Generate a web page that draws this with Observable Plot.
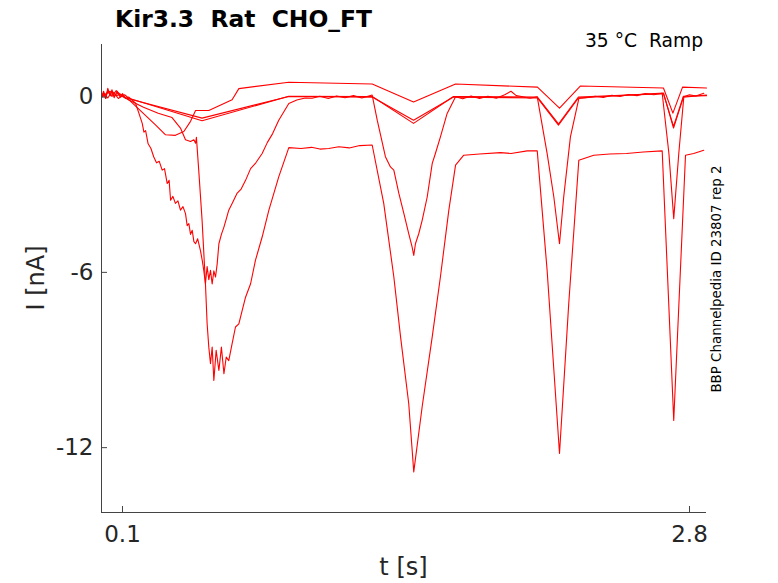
<!DOCTYPE html>
<html>
<head>
<meta charset="utf-8">
<script src="https://cdn.jsdelivr.net/npm/d3@7"></script>
<script src="https://cdn.jsdelivr.net/npm/@observablehq/plot@0.6"></script>
<style>
  html, body { margin: 0; padding: 0; background: #fff; }
  #chart { width: 778px; height: 583px; }
</style>
</head>
<body>
<div id="chart"></div>
<script>
// ---- axis ticks ----
const xTicks = [0.1, 2.8];
const yTicks = [0, -6, -12];
const xDomain = [0, 2.881];
const yDomain = [-14.22, 1.8];

// ---- trace A (deepest) ----
const tA = [0, 0.01, 0.02, 0.03, 0.045, 0.06, 0.08, 0.1, 0.13, 0.2, 0.27, 0.336, 0.376, 0.4, 0.424, 0.44, 0.448, 0.452,
  0.463, 0.479, 0.495, 0.503, 0.511, 0.519, 0.527, 0.535, 0.546, 0.559, 0.571, 0.583, 0.594, 0.606, 0.622, 0.638, 0.654,
  0.67, 0.686, 0.71, 0.733, 0.765, 0.797, 0.844, 0.892, 0.95, 1.0, 1.04, 1.082, 1.13, 1.18, 1.23, 1.289,
  1.344, 1.392, 1.424, 1.463, 1.487, 1.527, 1.575, 1.614, 1.654, 1.686, 1.725, 1.8, 1.9, 1.95, 2.027, 2.075,
  2.122, 2.181, 2.225, 2.273, 2.344, 2.42, 2.5, 2.58, 2.67, 2.725, 2.781, 2.82, 2.868];
const iA = [0, 0.2, -0.05, 0.25, 0.05, 0.15, -0.05, 0.05, -0.1, -0.35, -0.55, -0.7, -1.06, -1.46, -1.52, -1.46, -1.58, -1.38,
  -2.5, -4.22, -6.39, -7.76, -8.56, -9.13, -8.56, -9.7, -8.67, -9.36, -8.56, -9.47, -8.9, -9.02, -8.44, -7.87, -7.76,
  -7.3, -6.85, -6.39, -5.59, -4.79, -3.87, -2.73, -1.73, -1.76, -1.72, -1.78, -1.76, -1.7, -1.74, -1.66, -1.64,
  -3.64, -6.15, -8.2, -10.49, -12.83, -10.6, -8.2, -6.15, -3.87, -2.33, -1.99, -1.95, -1.9, -1.93, -1.84, -1.84,
  -5.93, -12.2, -7.07, -2.16, -1.99, -1.95, -1.93, -1.88, -1.84, -11.07, -1.99, -1.93, -1.82];

// ---- trace B (noisy, second deepest) ----
const tB = [0, 0.01, 0.02, 0.03, 0.04, 0.05, 0.06, 0.075, 0.09, 0.1, 0.115, 0.13, 0.162, 0.178, 0.194, 0.202, 0.21, 0.222,
  0.235, 0.249, 0.262, 0.275, 0.289, 0.3, 0.313, 0.322, 0.329, 0.34, 0.352, 0.364, 0.376, 0.388, 0.4, 0.408, 0.416,
  0.424, 0.432, 0.44, 0.448, 0.458, 0.471, 0.48, 0.487, 0.495, 0.503, 0.511, 0.519, 0.527, 0.535, 0.543, 0.551,
  0.559, 0.571, 0.583, 0.595, 0.606, 0.625, 0.645, 0.665, 0.686, 0.71, 0.735, 0.765, 0.79, 0.815, 0.844, 0.892,
  0.93, 0.97, 1.003, 1.04, 1.08, 1.12, 1.16, 1.2, 1.24, 1.289,
  1.313, 1.352, 1.376, 1.392, 1.416, 1.44, 1.463, 1.479, 1.487, 1.495, 1.511, 1.527, 1.551, 1.575, 1.59, 1.614,
  1.646, 1.686, 1.72, 1.76, 1.8, 1.84, 1.88, 1.92, 1.95, 1.975, 2.0, 2.04, 2.075,
  2.122, 2.154, 2.181, 2.201, 2.233, 2.273, 2.31, 2.35, 2.39, 2.43, 2.47, 2.51, 2.55, 2.59, 2.63, 2.67,
  2.702, 2.725, 2.749, 2.773, 2.8, 2.83, 2.868];
const iB = [0, 0.15, -0.05, 0.3, 0.05, 0.25, -0.02, 0.2, 0.02, 0.12, -0.05, 0, -0.21, -0.55, -0.9, -1.2, -1.15, -1.6,
  -1.75, -2.05, -2.25, -2.2, -2.5, -2.45, -2.96, -2.85, -3.53, -3.4, -3.64, -3.55, -3.87, -3.75, -3.99, -4.4, -4.33,
  -4.7, -4.56, -4.95, -5.02, -4.85, -5.25, -5.6, -5.93, -6.39, -5.8, -6.25, -5.93, -6.4, -5.95, -6.16, -5.7,
  -5.02, -4.7, -4.45, -4.15, -3.87, -3.6, -3.3, -3.15, -2.85, -2.45, -2.25, -1.93, -1.55, -1.25, -0.79, -0.22,
  -0.1, -0.03, -0.04, 0.03, -0.05, 0.04, -0.02, 0.05, -0.03, 0.07,
  -0.79, -2.04, -2.39, -2.5, -3.3, -3.99, -4.67, -5.13, -5.42, -5.02, -4.67, -4.22, -3.42, -2.27, -1.93, -1.36,
  -0.56, 0.01, -0.06, 0.04, -0.05, 0.03, -0.04, 0.08, 0.2, 0.05, 0.02, -0.04, 0.01,
  -1.93, -3.42, -5.02, -3.42, -1.36, -0.05, -0.02, 0.03, -0.01, 0.06, 0.02, 0.09, 0.05, 0.12, 0.08, 0.13,
  -1.93, -4.16, -1.93, 0.01, 0.08, 0.04, 0.13];

// ---- trace C (top) ----
const tC = [0, 0.02, 0.04, 0.06, 0.08, 0.1, 0.13, 0.257, 0.305, 0.352, 0.392, 0.424, 0.448, 0.511, 0.622, 0.654,
  0.892, 1.289, 1.486, 1.686, 2.076, 2.181, 2.281, 2.676, 2.721, 2.767, 2.881];
const iC = [0, 0.1, 0.2, 0.05, 0.15, 0.02, -0.09, -0.95, -1.29, -1.31, -1.18, -0.83, -0.46, -0.46, -0.09, 0.29,
  0.51, 0.45, -0.17, 0.45, 0.34, -0.38, 0.38, 0.31, -0.55, 0.34, 0.31];

// ---- trace D1 ----
const tD1 = [0, 0.015, 0.03, 0.05, 0.07, 0.09, 0.11, 0.13, 0.479, 0.892, 1.289, 1.486, 1.676, 2.076, 2.176, 2.271,
  2.676, 2.724, 2.771, 2.881];
const iD1 = [0, 0.12, -0.03, 0.2, 0.05, 0.1, -0.02, -0.06, -0.72, 0.02, 0.0, -0.79, 0.0, -0.03, -0.96, -0.03,
  0.14, -1.06, 0.0, 0.07];

// ---- trace D2 ----
const tD2 = [0, 0.015, 0.03, 0.05, 0.07, 0.09, 0.11, 0.13, 0.479, 0.892, 1.289, 1.486, 1.676, 2.076, 2.176, 2.271,
  2.676, 2.724, 2.771, 2.881];
const iD2 = [0, 0.05, 0.18, 0.02, 0.22, 0.0, 0.08, -0.04, -0.81, 0.03, 0.02, -0.9, 0.02, 0.0, -0.92, 0.0,
  0.12, -1.0, 0.03, 0.05];

const traces = [["A", tA, iA], ["B", tB, iB], ["C", tC, iC], ["D1", tD1, iD1], ["D2", tD2, iD2]];
const rows = traces.flatMap(([name, ts, is]) => ts.map((t, k) => ({trace: name, t, I: is[k]})));

const axisColor = "#444";
const textColor = "#262626";

const plot = Plot.plot({
  width: 778,
  height: 583,
  marginLeft: 101,
  marginRight: 72,
  marginTop: 44,
  marginBottom: 71,
  style: {fontFamily: "DejaVu Sans", background: "white", color: textColor},
  x: {domain: xDomain},
  y: {domain: yDomain},
  marks: [
    Plot.line(rows, {x: "t", y: "I", z: "trace", stroke: "#ff0000", strokeWidth: 1.1}),
    Plot.ruleX([xDomain[0]], {stroke: axisColor, strokeWidth: 1}),
    Plot.ruleY([yDomain[0]], {stroke: axisColor, strokeWidth: 1}),
    Plot.axisX(xTicks, {tickSize: 6, dy: -6, tickFormat: () => "", stroke: axisColor, label: null}),
    Plot.axisX(xTicks, {tickSize: 0, tickPadding: 13, tickFormat: d => String(d), fontSize: 23, fill: textColor, label: null}),
    Plot.axisY(yTicks, {tickSize: 6, dx: 6, tickFormat: () => "", stroke: axisColor, label: null}),
    Plot.axisY(yTicks, {tickSize: 0, tickPadding: 8, tickFormat: d => String(d), fontSize: 23, fill: textColor, label: null})
  ]
});

document.getElementById("chart").appendChild(plot);

const svg = d3.select(plot);
svg.append("text")
  .attr("x", 115).attr("y", 27)
  .attr("text-anchor", "start")
  .attr("font-family", "DejaVu Sans").attr("font-weight", "bold").attr("font-size", 23.4)
  .attr("fill", "#000")
  .text("Kir3.3  Rat  CHO_FT");
svg.append("text")
  .attr("x", 703).attr("y", 47)
  .attr("text-anchor", "end")
  .attr("font-family", "DejaVu Sans").attr("font-size", 18.7)
  .attr("fill", "#000")
  .text("35 °C  Ramp");
svg.append("text")
  .attr("transform", "translate(721,279) rotate(-90)")
  .attr("text-anchor", "middle")
  .attr("font-family", "DejaVu Sans").attr("font-size", 13.4)
  .attr("fill", "#000")
  .text("BBP Channelpedia ID 23807 rep 2");
svg.append("text")
  .attr("x", 403.5).attr("y", 575)
  .attr("text-anchor", "middle")
  .attr("font-family", "DejaVu Sans").attr("font-size", 24)
  .attr("fill", textColor)
  .text("t [s]");
svg.append("text")
  .attr("transform", "translate(44,278) rotate(-90)")
  .attr("text-anchor", "middle")
  .attr("font-family", "DejaVu Sans").attr("font-size", 24)
  .attr("fill", textColor)
  .text("I [nA]");
</script>
</body>
</html>
